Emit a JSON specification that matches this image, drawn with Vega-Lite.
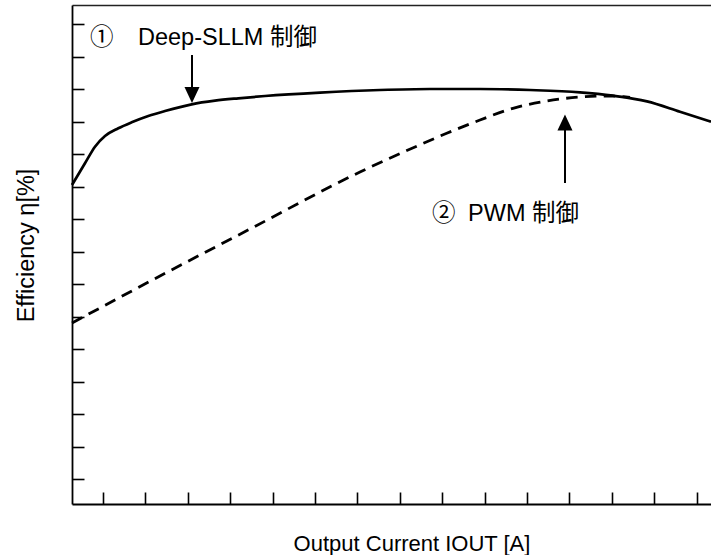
{
  "$schema": "https://vega.github.io/schema/vega-lite/v6.json",
  "width": 639,
  "height": 499,
  "autosize": {"type": "none"},
  "padding": {"left": 72, "top": 5, "right": 0, "bottom": 51},
  "background": "white",
  "config": {
    "view": {"stroke": null},
    "font": "Liberation Sans",
    "axis": {"titleFont": "Liberation Sans", "titleFontWeight": "normal", "titleColor": "black"}
  },
  "resolve": {"axis": {"x": "independent"}},
  "layer": [
    {
      "data": {"values": [
        {"x": 0.269, "y": 10.046}, {"x": 0.575, "y": 10.714}, {"x": 0.811, "y": 11.225},
        {"x": 1.047, "y": 11.554}, {"x": 1.361, "y": 11.791}, {"x": 1.677, "y": 11.975},
        {"x": 2.068, "y": 12.169}, {"x": 2.462, "y": 12.323}, {"x": 3.092, "y": 12.529},
        {"x": 3.642, "y": 12.64}, {"x": 4.191, "y": 12.714}, {"x": 4.821, "y": 12.785},
        {"x": 6.118, "y": 12.89}, {"x": 7.533, "y": 12.969}, {"x": 8.712, "y": 13.0},
        {"x": 9.892, "y": 13.0}, {"x": 11.071, "y": 12.969}, {"x": 12.25, "y": 12.898},
        {"x": 13.028, "y": 12.794}, {"x": 13.83, "y": 12.62}, {"x": 14.608, "y": 12.3},
        {"x": 15.34, "y": 11.994}
      ]},
      "mark": {"type": "line", "color": "black", "strokeWidth": 2.7, "interpolate": "monotone"},
      "encoding": {
        "x": {"field": "x", "type": "quantitative", "scale": {"domain": [0.269, 15.34], "nice": false, "zero": false},
          "axis": {"orient": "bottom", "values": [1,2,3,4,5,6,7,8,9,10,11,12,13,14,15], "tickCount": 20, "labels": false, "grid": false,
            "tickSize": -12, "tickWidth": 1.6, "tickColor": "black", "domainColor": "black", "domainWidth": 1.8,
            "title": "Output Current IOUT [A]", "titleFontSize": 22, "titleX": 339.5, "titleY": 46,
            "titleAlign": "center", "titleBaseline": "alphabetic"}},
        "y": {"field": "y", "type": "quantitative", "scale": {"domain": [0.2308, 15.585], "nice": false, "zero": false},
          "axis": {"values": [1,2,3,4,5,6,7,8,9,10,11,12,13,14,15], "tickCount": 20, "labels": false, "grid": false,
            "tickSize": -12, "tickWidth": 1.6, "tickColor": "black", "domainColor": "black", "domainWidth": 1.8,
            "title": "Efficiency η[%]", "titleFontSize": 23.5, "titleX": -39, "titleY": 240, "titleAngle": -90,
            "titleAlign": "center", "titleBaseline": "alphabetic"}}
      }
    },
    {
      "data": {"values": [
        {"x": 0.269, "y": 5.8}, {"x": 2.344, "y": 7.246}, {"x": 4.467, "y": 8.692},
        {"x": 7.061, "y": 10.446}, {"x": 8.517, "y": 11.308}, {"x": 9.106, "y": 11.637},
        {"x": 9.892, "y": 12.046}, {"x": 10.67, "y": 12.406}, {"x": 11.465, "y": 12.631},
        {"x": 12.25, "y": 12.754}, {"x": 12.958, "y": 12.785}, {"x": 13.43, "y": 12.74}
      ]},
      "mark": {"type": "line", "color": "black", "strokeWidth": 2.8, "strokeDash": [11.5, 7.3], "interpolate": "monotone"},
      "encoding": {
        "x": {"field": "x", "type": "quantitative", "scale": {"domain": [0.269, 15.34], "nice": false, "zero": false},
          "axis": {"orient": "top", "ticks": false, "labels": false, "grid": false, "title": null,
            "domainColor": "#222", "domainWidth": 1.3}},
        "y": {"field": "y", "type": "quantitative", "scale": {"domain": [0.2308, 15.585], "nice": false, "zero": false}}
      }
    },
    {
      "data": {"values": [
        {"x": 3.099, "y": 14.046, "y2": 12.969},
        {"x": 11.896, "y": 11.831, "y2": 10.108}
      ]},
      "mark": {"type": "rule", "color": "black", "strokeWidth": 2},
      "encoding": {
        "x": {"field": "x", "type": "quantitative", "scale": {"domain": [0.269, 15.34], "nice": false, "zero": false}, "axis": null},
        "y": {"field": "y", "type": "quantitative", "scale": {"domain": [0.2308, 15.585], "nice": false, "zero": false}},
        "y2": {"field": "y2"}
      }
    },
    {
      "data": {"values": [
        {"x": 3.099, "y": 12.815, "dir": "down"},
        {"x": 11.896, "y": 11.969, "dir": "up"}
      ]},
      "mark": {"type": "point", "filled": true, "color": "black", "opacity": 1, "size": 256, "strokeWidth": 0},
      "encoding": {
        "x": {"field": "x", "type": "quantitative", "scale": {"domain": [0.269, 15.34], "nice": false, "zero": false}, "axis": null},
        "y": {"field": "y", "type": "quantitative", "scale": {"domain": [0.2308, 15.585], "nice": false, "zero": false}},
        "shape": {"field": "dir", "type": "nominal", "scale": {"domain": ["down", "up"], "range": ["M-0.94,-1L0.94,-1L0,1Z", "M-0.94,1L0.94,1L0,-1Z"]}, "legend": null}
      }
    },
    {
      "data": {"values": [
        {"x": 0.693, "y": 14.354, "label": "①"},
        {"x": 1.825, "y": 14.354, "label": "Deep-SLLM 制御"},
        {"x": 8.76, "y": 8.954, "label": "②"},
        {"x": 9.61, "y": 8.954, "label": "PWM 制御"}
      ]},
      "mark": {"type": "text", "align": "left", "baseline": "alphabetic", "fontSize": 23.5, "color": "black",
        "font": "Liberation Sans, Noto Sans CJK JP, sans-serif"},
      "encoding": {
        "x": {"field": "x", "type": "quantitative", "scale": {"domain": [0.269, 15.34], "nice": false, "zero": false}, "axis": null},
        "y": {"field": "y", "type": "quantitative", "scale": {"domain": [0.2308, 15.585], "nice": false, "zero": false}},
        "text": {"field": "label"}
      }
    }
  ]
}
